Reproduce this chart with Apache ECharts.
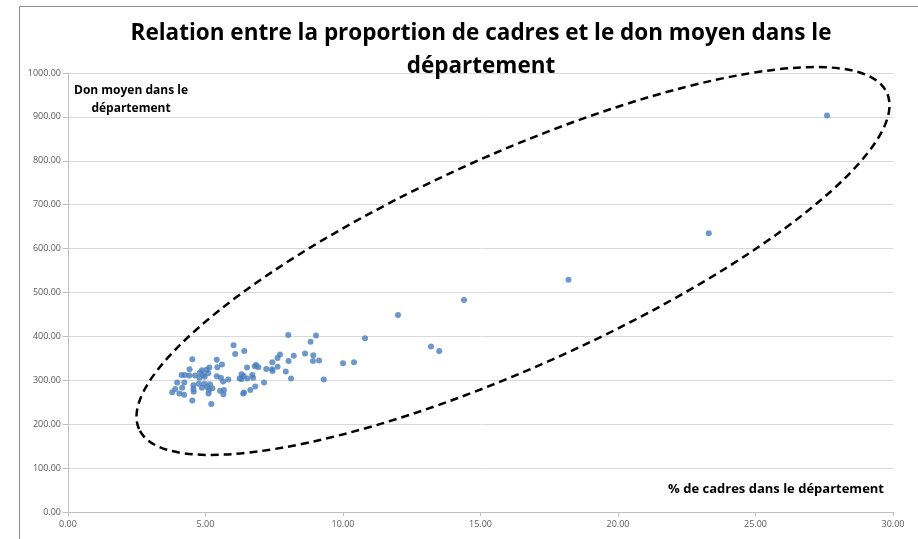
<!DOCTYPE html>
<html>
<head>
<meta charset="utf-8">
<script src="https://cdn.jsdelivr.net/npm/echarts@6/dist/echarts.min.js"></script>
<style>
  html, body { margin: 0; padding: 0; background: #fff; }
  #chart { width: 918px; height: 539px; }
</style>
</head>
<body>
<div id="chart"></div>
<script>
// % de cadres dans le département
var cadres = [
  27.6, 23.3, 18.2, 14.4, 12.0, 10.8, 13.2, 13.5, 10.4, 10.0, 9.3,
  6.41, 8.01, 9.02, 8.82, 8.62, 8.92, 8.91, 9.13, 8.21, 8.02, 7.71, 7.62, 7.43, 7.62, 7.42,
  7.44, 7.21, 6.84, 6.92, 6.79, 6.51, 7.92, 8.11, 7.13, 6.81, 6.63, 6.40, 6.70, 6.73, 6.31,
  6.52, 6.31,
  6.02, 6.08, 4.52, 5.41, 5.60, 5.43, 5.14, 4.42, 4.87, 5.04, 4.80, 4.62, 4.13, 4.25, 4.41,
  4.92, 5.10, 4.97, 4.78, 5.41, 5.56, 5.83, 6.24, 6.39, 3.97, 4.23, 4.56, 4.76, 4.96, 5.16,
  5.06, 4.87, 5.25, 4.15, 3.90, 3.79, 4.05, 4.22, 4.56, 4.57, 5.11, 5.13, 5.53, 5.67, 5.65,
  6.37, 4.52, 5.21, 5.64
];
// Don moyen dans le département
var donMoyen = [
  903, 635, 529, 483, 449, 396, 377, 367, 341, 339, 302,
  367, 403, 402, 388, 361, 357, 344, 345, 356, 344, 359, 351, 341, 331, 325,
  321, 326, 335, 330, 332, 329, 320, 304, 295, 286, 278, 272, 312, 306, 314,
  304, 303,
  380, 360, 348, 347, 336, 330, 329, 325, 323, 324, 318, 311, 312, 312, 311,
  312, 316, 308, 306, 309, 306, 302, 304, 310, 295, 295, 289, 292, 292, 291,
  285, 283, 282, 283, 280, 273, 270, 267, 280, 274, 270, 278, 276, 278, 268,
  270, 254, 246, 297
];

var points = cadres.map(function (x, i) { return [x, donMoyen[i]]; });

var myChart = echarts.init(document.getElementById('chart'));
var fmt = function (v) { return v.toFixed(2); };

var option = {
  backgroundColor: '#fff',
  animation: false,
  textStyle: { fontFamily: 'Open Sans' },
  title: {
    text: 'Relation entre la proportion de cadres et le don moyen dans le\ndépartement',
    left: 476,
    textAlign: 'center',
    top: 12,
    textStyle: { fontSize: 22.5, fontWeight: 'bold', color: '#000', lineHeight: 33, fontFamily: 'Open Sans' }
  },
  grid: { left: 68, right: 25, top: 73, bottom: 27 },
  xAxis: {
    type: 'value', min: 0, max: 30, interval: 5,
    axisLine: { show: true, lineStyle: { color: '#bfbfbf' } },
    axisTick: { show: true, length: 4, lineStyle: { color: '#bfbfbf' } },
    splitLine: { show: false },
    axisLabel: { formatter: fmt, color: '#595959', fontSize: 9, margin: 8 }
  },
  yAxis: {
    type: 'value', min: 0, max: 1000, interval: 100,
    axisLine: { show: true, lineStyle: { color: '#bfbfbf' } },
    axisTick: { show: true, length: 5, lineStyle: { color: '#bfbfbf' } },
    splitLine: { lineStyle: { color: '#d9d9d9' } },
    axisLabel: { formatter: fmt, color: '#595959', fontSize: 9, margin: 7 }
  },
  series: [{
    type: 'scatter',
    data: points,
    symbolSize: 6,
    itemStyle: { color: '#4a7ebb' }
  }],
  graphic: [
    {
      type: 'rect',
      shape: { x: 19.5, y: 6.5, width: 1000, height: 1000 },
      style: { fill: 'none', stroke: '#8c8c8c', lineWidth: 1 },
      silent: true
    },
    {
      type: 'ellipse',
      x: 513, y: 261,
      rotation: 24.2 * Math.PI / 180,
      shape: { cx: 0, cy: 0, rx: 410, ry: 106 },
      style: { fill: 'none', stroke: '#000', lineWidth: 2.5, lineDash: [8, 5] },
      silent: true, z: 10
    },
    {
      type: 'text',
      x: 131, y: 82,
      style: {
        text: 'Don moyen dans le\ndépartement',
        fontSize: 12, fontWeight: 'bold', fill: '#000',
        align: 'center', lineHeight: 18, fontFamily: 'Open Sans'
      },
      silent: true
    },
    {
      type: 'text',
      x: 884, y: 483,
      style: {
        text: '% de cadres dans le département',
        fontSize: 13, fontWeight: 'bold', fill: '#000',
        align: 'right', fontFamily: 'Open Sans'
      },
      silent: true
    }
  ]
};

myChart.setOption(option);
</script>
</body>
</html>
